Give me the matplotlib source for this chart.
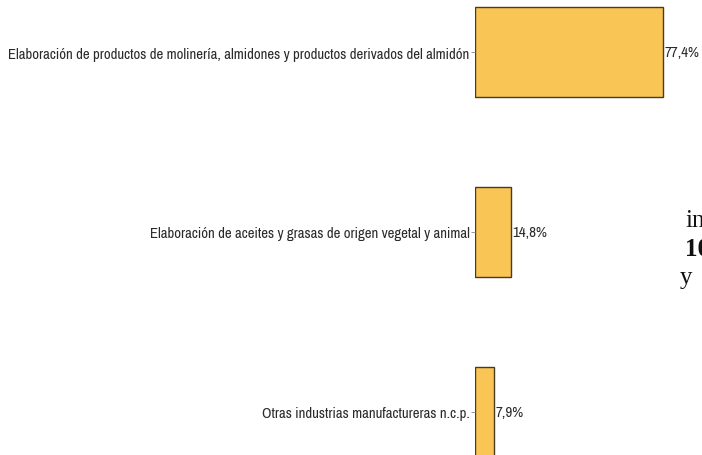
import matplotlib
matplotlib.use("Agg")
import matplotlib.pyplot as plt
from matplotlib import font_manager

categories = [
    "Elaboración de productos de molinería, almidones y productos derivados del almidón",
    "Elaboración de aceites y grasas de origen vegetal y animal",
    "Otras industrias manufactureras n.c.p.",
]
values = [77.4, 14.8, 7.9]
value_labels = ["77,4%", "14,8%", "7,9%"]

names = {f.name for f in font_manager.fontManager.ttflist}
narrow = next((n for n in ["Liberation Sans Narrow", "Archivo Narrow", "Roboto Condensed",
                           "Liberation Sans"] if n in names), "DejaVu Sans")

W, H = 702, 456
fig = plt.figure(figsize=(W / 100, H / 100), dpi=100)
fig.patch.set_facecolor("white")
renderer = fig.canvas.get_renderer()


def fit_size(text, target_px, base=10.0):
    t = fig.text(0, 0, text, fontfamily=narrow, fontsize=base)
    w = t.get_window_extent(renderer).width
    t.remove()
    return base * target_px / w


cat_size = fit_size(categories[0], 461)
val_size = fit_size(value_labels[0], 35)

ax = fig.add_axes([475 / W, 0, (W - 475) / W, 1])
ax.set_facecolor("none")

pos = list(range(len(categories)))
ax.barh(pos, values, height=0.5, color="#F9C655", edgecolor="#4a3a20", linewidth=1.0)
ax.set_xlim(0, (W - 475) / 2.43)
ax.set_ylim((H - 53) / 180, -53 / 180)

ax.set_yticks(pos)
ax.set_yticklabels(categories, fontfamily=narrow, fontsize=cat_size, color="#2a2a2a")
ax.tick_params(axis="y", length=3, width=0.6, color="#888888", pad=1)
ax.set_xticks([])
for s in ax.spines.values():
    s.set_visible(False)

for p, v, lab in zip(pos, values, value_labels):
    ax.text(v + 0.6, p, lab, va="center", ha="left", fontfamily=narrow,
            fontsize=val_size, color="#2a2a2a")

for txt, x, y, wt in [("in", 685, 227, "normal"), ("10", 685, 256, "bold"),
                      ("y", 680, 284, "normal")]:
    fig.text(x / W, 1 - y / H, txt, fontfamily="Liberation Serif", fontsize=18,
             fontweight=wt, color="#111111", va="baseline", ha="left")

fig.savefig("out.png", dpi=100)
